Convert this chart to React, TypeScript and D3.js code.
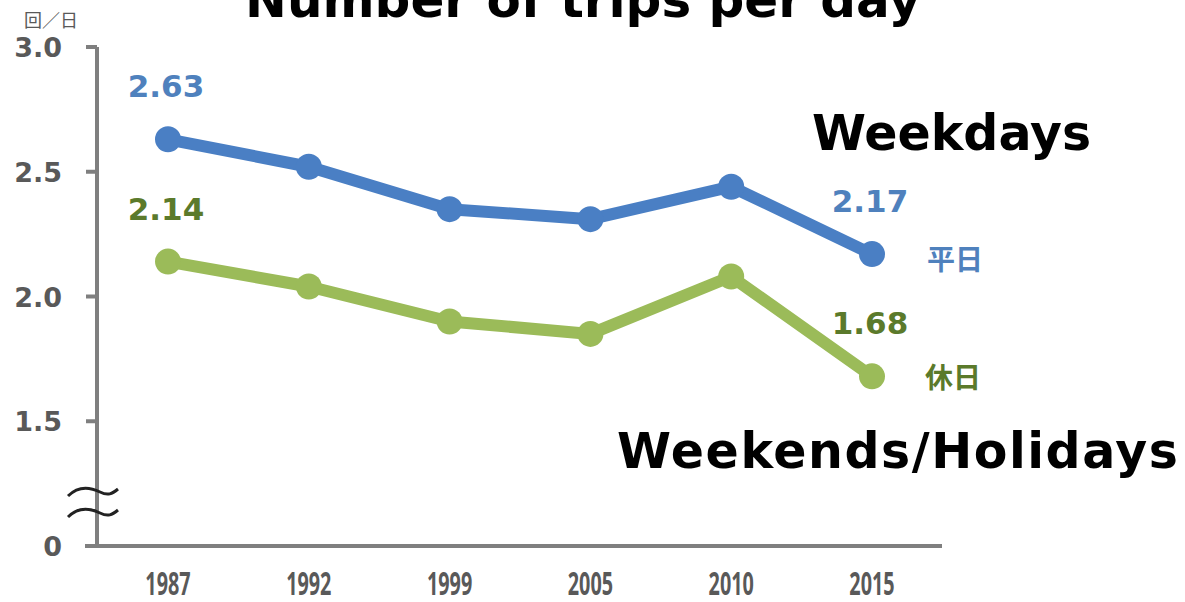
import React from "react";
import * as d3 from "d3";

const years = ["1987", "1992", "1999", "2005", "2010", "2015"];
const weekdays = [2.63, 2.52, 2.35, 2.31, 2.44, 2.17];
const holidays = [2.14, 2.04, 1.9, 1.85, 2.08, 1.68];
const yTicks = [1.0, 1.5, 2.0, 2.5, 3.0];
const yTickLabels = ["0", "1.5", "2.0", "2.5", "3.0"];
const weekdayLabels = ["2.63", "", "", "", "", "2.17"];
const holidayLabels = ["2.14", "", "", "", "", "1.68"];

const W = 1185;
const H = 602;

export default function App() {
  const x = d3.scalePoint<string>().domain(years).range([168, 872]);
  const y = d3.scaleLinear().domain([1.0, 3.0]).range([546, 47]);
  const line = d3
    .line<number>()
    .x((_, i) => x(years[i]) as number)
    .y((d) => y(d));

  const blue = "#4a7fc4";
  const blueText = "#4f81bd";
  const green = "#9bbb59";
  const greenText = "#5b7a2b";
  const axisColor = "#7f7f7f";
  const tickText = "#595959";
  const bold = "'DejaVu Sans', Verdana, sans-serif";

  const tilde = (cy: number) =>
    `M68,${cy + 4} C80,${cy - 8} 92,${cy - 4} 100,${cy} C108,${cy + 4} 112,${cy + 2} 118,${cy - 3}`;

  return (
    <svg
      width={W}
      height={H}
      style={{ position: "absolute", left: 0, top: 0, background: "#fff" }}
    >
      {/* title */}
      <text
        x={583}
        y={17}
        textAnchor="middle"
        fontFamily={bold}
        fontWeight="bold"
        fontSize={50}
        fill="#000"
      >
        Number of trips per day
      </text>

      {/* unit */}
      <text x={24} y={27} fontFamily="'Noto Sans CJK JP', sans-serif" fontSize={18} fill={tickText}>
        回／日
      </text>

      {/* y axis */}
      <line x1={97} x2={97} y1={y(3.0)} y2={y(1.0) + 2} stroke={axisColor} strokeWidth={4} />
      {yTicks.map((t, i) => (
        <g key={t}>
          <line x1={86} x2={97} y1={y(t)} y2={y(t)} stroke={axisColor} strokeWidth={4} />
          <text
            x={62}
            y={y(t) + 10}
            textAnchor="end"
            fontFamily={bold}
            fontWeight="bold"
            fontSize={27}
            fill={tickText}
          >
            {yTickLabels[i]}
          </text>
        </g>
      ))}

      {/* x axis */}
      <line x1={85} x2={942} y1={y(1.0)} y2={y(1.0)} stroke={axisColor} strokeWidth={4} />
      {years.map((yr) => (
        <text
          key={yr}
          transform={`translate(${x(yr)},595) scale(0.6,1)`}
          textAnchor="middle"
          fontFamily="'Open Sans', sans-serif"
          fontWeight={700}
          fontSize={33}
          fill={tickText}
        >
          {yr}
        </text>
      ))}

      {/* axis break */}
      <rect x={66} y={482} width={54} height={40} fill="#fff" />
      <line x1={97} x2={97} y1={482} y2={522} stroke={axisColor} strokeWidth={4} />
      <path d={tilde(492)} fill="none" stroke="#222" strokeWidth={3} />
      <path d={tilde(513)} fill="none" stroke="#222" strokeWidth={3} />

      {/* series */}
      <path d={line(weekdays) || ""} fill="none" stroke={blue} strokeWidth={12} strokeLinejoin="round" />
      {weekdays.map((v, i) => (
        <circle key={"w" + i} cx={x(years[i])} cy={y(v)} r={13} fill={blue} />
      ))}
      <path d={line(holidays) || ""} fill="none" stroke={green} strokeWidth={12} strokeLinejoin="round" />
      {holidays.map((v, i) => (
        <circle key={"h" + i} cx={x(years[i])} cy={y(v)} r={13} fill={green} />
      ))}

      {/* value labels */}
      {weekdayLabels.map((l, i) =>
        l ? (
          <text
            key={"wl" + i}
            x={(x(years[i]) as number) - 2}
            y={y(weekdays[i]) - 42}
            textAnchor="middle"
            fontFamily={bold}
            fontWeight="bold"
            fontSize={31}
            fill={blueText}
          >
            {l}
          </text>
        ) : null
      )}
      {holidayLabels.map((l, i) =>
        l ? (
          <text
            key={"hl" + i}
            x={(x(years[i]) as number) - 2}
            y={y(holidays[i]) - 42}
            textAnchor="middle"
            fontFamily={bold}
            fontWeight="bold"
            fontSize={31}
            fill={greenText}
          >
            {l}
          </text>
        ) : null
      )}

      {/* series names */}
      <text x={927} y={270} fontFamily="'Noto Sans CJK JP', sans-serif" fontWeight="bold" fontSize={28} fill={blueText}>
        平日
      </text>
      <text x={925} y={388} fontFamily="'Noto Sans CJK JP', sans-serif" fontWeight="bold" fontSize={28} fill={greenText}>
        休日
      </text>

      {/* english annotations */}
      <text x={812} y={150} fontFamily={bold} fontWeight="bold" fontSize={49} fill="#000">
        Weekdays
      </text>
      <text
        x={617}
        y={468}
        fontFamily={bold}
        fontWeight="bold"
        fontSize={49}
        textLength={561}
        lengthAdjust="spacing"
        fill="#000"
      >
        Weekends/Holidays
      </text>
    </svg>
  );
}
